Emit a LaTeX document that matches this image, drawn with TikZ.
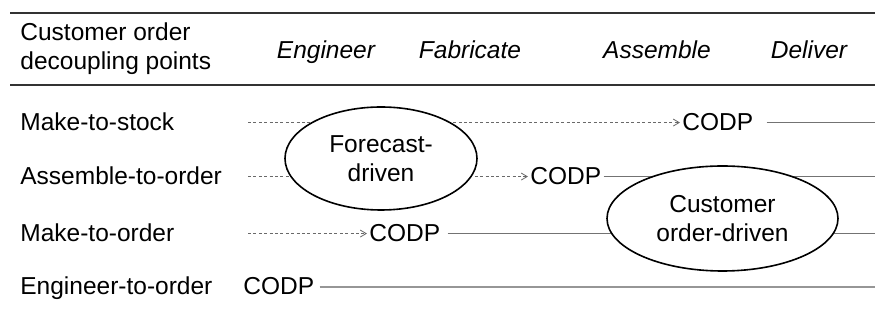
\documentclass[tikz,border=0pt]{standalone}
\usepackage{fontspec}
\setmainfont{Liberation Sans}
\usetikzlibrary{arrows.meta,positioning,shapes.geometric}
\definecolor{rulegrey}{RGB}{51,51,51}
\definecolor{linegrey}{RGB}{115,115,115}
\definecolor{dashgrey}{RGB}{105,105,105}
\definecolor{etogrey}{RGB}{150,150,150}

\begin{document}
\begin{tikzpicture}[x=0.5pt, y=-0.5pt,
    every node/.style={font=\fontsize{12.25}{14.5}\selectfont},
    rowlabel/.style={anchor=base west, inner sep=0pt},
    stage/.style={anchor=base, inner sep=0pt, font=\fontsize{12.25}{14.5}\selectfont\itshape},
    codp/.style={anchor=base west, inner sep=1pt},
    driver/.style={ellipse, draw=black, thick, fill=white, align=center, inner sep=0pt},
    rule/.style={rulegrey, line width=1.2pt},
    push/.style={-{Straight Barb[length=3pt,width=3.5pt]}, dashgrey, line width=0.4pt,
        dash pattern=on 1.5pt off 1.2pt},
    pull/.style={linegrey, line width=0.5pt}
]
    \useasboundingbox (0,0) rectangle (875,325);

    % Header
    \draw[rule] (10,13) -- (875,13);
    \draw[rule] (10,85) -- (875,85);
    \node[anchor=west, inner sep=0pt, align=left] (head) at (20,49)
        {Customer order\\decoupling points};
    \node[stage] (eng) at (326,59) {Engineer};
    \node[stage] (fab) at (470,59) {Fabricate};
    \node[stage] (ass) at (657,59) {Assemble};
    \node[stage] (del) at (809,59) {Deliver};

    % Row labels
    \node[rowlabel] (mts) at (20,131) {Make-to-stock};
    \node[rowlabel] (ato) at (20,185) {Assemble-to-order};
    \node[rowlabel] (mto) at (20,242) {Make-to-order};
    \node[rowlabel] (eto) at (20,295) {Engineer-to-order};

    % Decoupling points
    \node[codp] (codp1) at (680,131) {CODP};
    \node[codp] (codp2) at (528,185) {CODP};
    \node[codp] (codp3) at (367,242) {CODP};
    \node[codp] (codp4) at (241,295) {CODP};

    \coordinate (lstart) at (248,0);
    \coordinate (rend) at (875,0);

    % Forecast-driven part
    \draw[push] (codp1.west -| lstart) -- (codp1.west);
    \draw[push] (codp2.west -| lstart) -- (codp2.west);
    \draw[push] (codp3.west -| lstart) -- (codp3.west);

    % Order-driven part
    \draw[pull, shorten <=5.5pt] (codp1.east) -- (codp1.east -| rend);
    \draw[pull] (codp2.east) -- (codp2.east -| rend);
    \draw[pull, shorten <=2.5pt] (codp3.east) -- (codp3.east -| rend);
    \draw[etogrey, line width=1pt, shorten <=1.5pt] (codp4.east) -- (codp4.east -| rend);

    % Ellipses
    \node[driver, minimum width=96pt, minimum height=51.5pt] (fcst) at (381,158.5)
        {Forecast-\\driven};
    \node[driver, minimum width=115.5pt, minimum height=52.5pt] (cust) at (722.5,218.5)
        {Customer\\order-driven};
\end{tikzpicture}
\end{document}
